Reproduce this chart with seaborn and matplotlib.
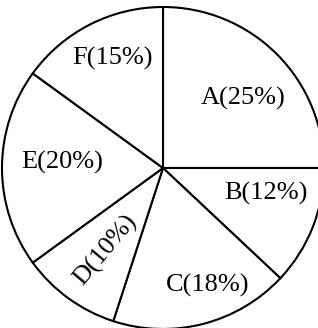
import numpy as np
import seaborn as sns
import matplotlib
matplotlib.use("Agg")
import matplotlib.pyplot as plt

categories = ["A", "B", "C", "D", "E", "F"]
shares = [25, 12, 18, 10, 20, 15]
labels = [f"{c}({s}%)" for c, s in zip(categories, shares)]

sns.set_theme(style="white")
plt.rcParams["font.family"] = ["Liberation Serif", "DejaVu Serif"]

fig = plt.figure(figsize=(3.18, 3.28), dpi=100)
ax = fig.add_axes([2 / 318, -1 / 328, 322 / 318, 322 / 328])

ax.pie(shares, startangle=90, counterclock=False, colors=["white"] * len(shares),
       wedgeprops=dict(edgecolor="black", linewidth=1.5), radius=1.0)

# label placement (radius fraction, angle in degrees, rotation)
label_pos = [(0.66, 41, 0), (0.66, -14, 0), (0.78, -69, 0),
             (0.62, -125, 50), (0.63, 177, 0), (0.75, 115, 0)]
for text, (r, ang, rot) in zip(labels, label_pos):
    a = np.deg2rad(ang)
    ax.text(r * np.cos(a), r * np.sin(a), text, ha="center", va="center",
            fontsize=19, rotation=rot, color="black")

ax.set_xlim(-1, 1)
ax.set_ylim(-1, 1)
ax.set_aspect("equal")
ax.axis("off")

fig.savefig("out.png", dpi=100, facecolor="white")
